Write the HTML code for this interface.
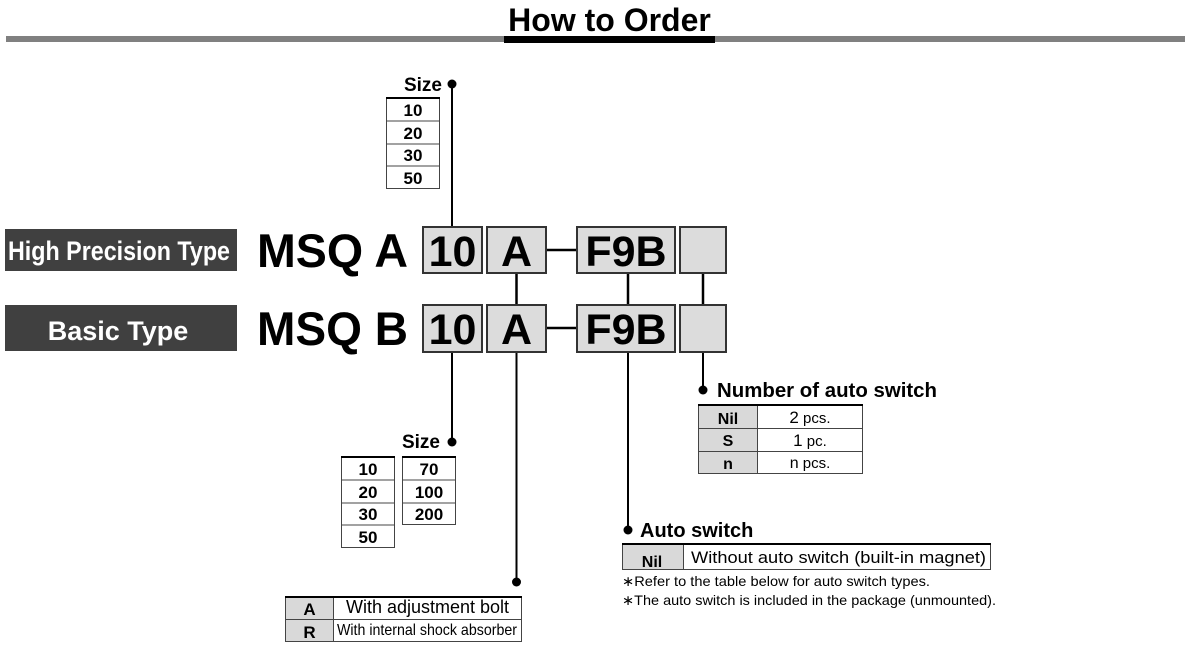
<!DOCTYPE html>
<html>
<head>
<meta charset="utf-8">
<style>
html,body{margin:0;padding:0;background:#fff;}
body{width:1189px;height:655px;overflow:hidden;}
svg{display:block;font-family:"Liberation Sans",Arial,sans-serif;}
.b{font-weight:bold;}
</style>
</head>
<body>
<svg width="1189" height="655" viewBox="0 0 1189 655" xmlns="http://www.w3.org/2000/svg">
  <!-- header -->
  <rect x="6" y="36" width="1179" height="6" fill="#808080"/>
  <rect x="504" y="36" width="211" height="7" fill="#000"/>
  <text x="609.5" y="31" class="b" font-size="32" text-anchor="middle" fill="#000">How to Order</text>

  <!-- top size -->
  <text x="442" y="91" class="b" font-size="19" text-anchor="end">Size</text>
  <circle cx="452" cy="84" r="4.5" fill="#000"/>
  <line x1="452" y1="84" x2="452" y2="228" stroke="#000" stroke-width="2"/>
  <g stroke="#444" stroke-width="1" fill="#fff">
    <rect x="386.5" y="98.5" width="53" height="90"/>
    <line x1="386" y1="121" x2="440" y2="121"/>
    <line x1="386" y1="144" x2="440" y2="144"/>
    <line x1="386" y1="166" x2="440" y2="166"/>
  </g>
  <line x1="386" y1="98" x2="440" y2="98" stroke="#000" stroke-width="2"/>
  <g class="b" font-size="17" text-anchor="middle">
    <text x="413" y="116">10</text>
    <text x="413" y="139">20</text>
    <text x="413" y="161">30</text>
    <text x="413" y="184">50</text>
  </g>

  <!-- type labels -->
  <rect x="5" y="229" width="232" height="42" fill="#404040"/>
  <text x="8" y="260" class="b" font-size="27" fill="#fff" textLength="222" lengthAdjust="spacingAndGlyphs">High Precision Type</text>
  <rect x="5" y="305" width="232" height="46" fill="#404040"/>
  <text x="118" y="340" class="b" font-size="27" fill="#fff" text-anchor="middle">Basic Type</text>

  <text x="257" y="267" class="b" font-size="47" textLength="151" lengthAdjust="spacingAndGlyphs">MSQ A</text>
  <text x="257" y="345" class="b" font-size="47" textLength="151" lengthAdjust="spacingAndGlyphs">MSQ B</text>

  <!-- connectors -->
  <g stroke="#000" stroke-width="2.5">
    <line x1="546" y1="250" x2="577" y2="250"/>
    <line x1="546" y1="328" x2="577" y2="328"/>
    <line x1="516.5" y1="273" x2="516.5" y2="305"/>
    <line x1="628" y1="273" x2="628" y2="305"/>
    <line x1="703" y1="273" x2="703" y2="305"/>
  </g>
  <g stroke="#000" stroke-width="2">
    <line x1="452" y1="352" x2="452" y2="442"/>
    <line x1="516.5" y1="352" x2="516.5" y2="582"/>
    <line x1="628" y1="352" x2="628" y2="530"/>
    <line x1="703" y1="352" x2="703" y2="390"/>
  </g>

  <!-- code boxes -->
  <g fill="#dcdcdc" stroke="#333" stroke-width="2">
    <rect x="423" y="227" width="59" height="46"/>
    <rect x="487" y="227" width="59" height="46"/>
    <rect x="577" y="227" width="98" height="46"/>
    <rect x="680" y="227" width="46" height="46"/>
    <rect x="423" y="305" width="59" height="47"/>
    <rect x="487" y="305" width="59" height="47"/>
    <rect x="577" y="305" width="98" height="47"/>
    <rect x="680" y="305" width="46" height="47"/>
  </g>
  <g class="b" font-size="43" text-anchor="middle">
    <text x="452.5" y="266">10</text>
    <text x="516.5" y="266">A</text>
    <text x="626" y="266">F9B</text>
    <text x="452.5" y="344">10</text>
    <text x="516.5" y="344">A</text>
    <text x="626" y="344">F9B</text>
  </g>

  <!-- bottom size -->
  <text x="440" y="448" class="b" font-size="19" text-anchor="end">Size</text>
  <circle cx="452" cy="442" r="4.5" fill="#000"/>
  <g stroke="#444" stroke-width="1" fill="#fff">
    <rect x="341.5" y="457.5" width="53" height="90"/>
    <line x1="341" y1="480" x2="395" y2="480"/>
    <line x1="341" y1="503" x2="395" y2="503"/>
    <line x1="341" y1="525" x2="395" y2="525"/>
    <rect x="402.5" y="457.5" width="53" height="67"/>
    <line x1="402" y1="480" x2="456" y2="480"/>
    <line x1="402" y1="503" x2="456" y2="503"/>
  </g>
  <line x1="341" y1="457" x2="395" y2="457" stroke="#000" stroke-width="2"/>
  <line x1="402" y1="457" x2="456" y2="457" stroke="#000" stroke-width="2"/>
  <g class="b" font-size="17" text-anchor="middle">
    <text x="368" y="475">10</text>
    <text x="368" y="498">20</text>
    <text x="368" y="520">30</text>
    <text x="368" y="543">50</text>
    <text x="429" y="475">70</text>
    <text x="429" y="498">100</text>
    <text x="429" y="520">200</text>
  </g>

  <!-- A/R table -->
  <circle cx="516.5" cy="582" r="4.5" fill="#000"/>
  <rect x="286" y="597" width="47" height="45" fill="#d9d9d9"/>
  <g stroke="#444" stroke-width="1" fill="none">
    <rect x="285.5" y="597.5" width="236" height="44"/>
    <line x1="333.5" y1="597" x2="333.5" y2="642"/>
    <line x1="285" y1="619.5" x2="522" y2="619.5"/>
  </g>
  <line x1="285" y1="597" x2="522" y2="597" stroke="#000" stroke-width="2"/>
  <text x="309.5" y="615" class="b" font-size="17" text-anchor="middle">A</text>
  <text x="309.5" y="638" class="b" font-size="17" text-anchor="middle">R</text>
  <text x="427.5" y="613" font-size="18" text-anchor="middle">With adjustment bolt</text>
  <text x="337" y="635" font-size="16" textLength="180" lengthAdjust="spacingAndGlyphs">With internal shock absorber</text>

  <!-- number of auto switch -->
  <circle cx="703" cy="390" r="4.5" fill="#000"/>
  <text x="717" y="397" class="b" font-size="20" textLength="220" lengthAdjust="spacingAndGlyphs">Number of auto switch</text>
  <rect x="698" y="405" width="59" height="68" fill="#d9d9d9"/>
  <g stroke="#444" stroke-width="1" fill="none">
    <rect x="698.5" y="405.5" width="164" height="68"/>
    <line x1="757.5" y1="405" x2="757.5" y2="474"/>
    <line x1="698" y1="428.5" x2="863" y2="428.5"/>
    <line x1="698" y1="451.5" x2="863" y2="451.5"/>
  </g>
  <line x1="698" y1="405" x2="863" y2="405" stroke="#000" stroke-width="2"/>
  <g class="b" font-size="16" text-anchor="middle">
    <text x="728" y="424">Nil</text>
    <text x="728" y="446">S</text>
    <text x="728" y="469">n</text>
  </g>
  <g text-anchor="middle">
    <text x="810" y="423"><tspan font-size="17">2</tspan><tspan font-size="15"> pcs.</tspan></text>
    <text x="810" y="446"><tspan font-size="17">1</tspan><tspan font-size="15"> pc.</tspan></text>
    <text x="810" y="468"><tspan font-size="16">n</tspan><tspan font-size="15"> pcs.</tspan></text>
  </g>

  <!-- auto switch -->
  <circle cx="628" cy="530" r="4.5" fill="#000"/>
  <text x="640" y="537" class="b" font-size="20">Auto switch</text>
  <rect x="622" y="544" width="61" height="26" fill="#d9d9d9"/>
  <g stroke="#444" stroke-width="1" fill="none">
    <rect x="622.5" y="544.5" width="368" height="25"/>
    <line x1="683.5" y1="544" x2="683.5" y2="570"/>
  </g>
  <line x1="622" y1="544" x2="991" y2="544" stroke="#000" stroke-width="2"/>
  <text x="652" y="567" class="b" font-size="16" text-anchor="middle">Nil</text>
  <text x="691" y="563" font-size="17" textLength="295" lengthAdjust="spacingAndGlyphs">Without auto switch (built-in magnet)</text>
  <text x="622" y="586" font-size="14" textLength="308" lengthAdjust="spacingAndGlyphs">∗Refer to the table below for auto switch types.</text>
  <text x="622" y="605" font-size="14" textLength="374" lengthAdjust="spacingAndGlyphs">∗The auto switch is included in the package (unmounted).</text>
</svg>
</body>
</html>
